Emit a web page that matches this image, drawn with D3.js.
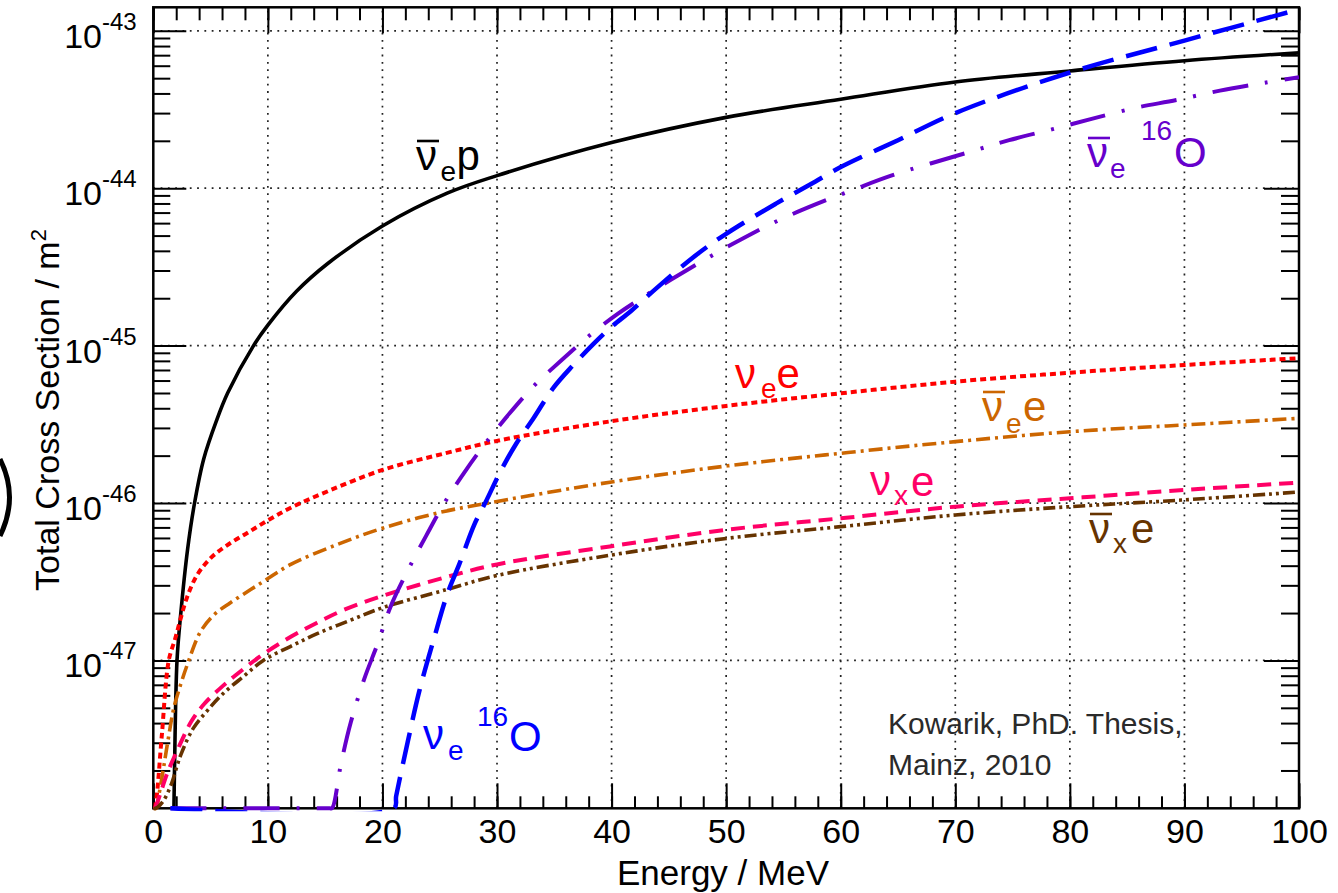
<!DOCTYPE html>
<html>
<head>
<meta charset="utf-8">
<script src="https://cdn.jsdelivr.net/npm/d3@7"></script>
<style>
  body { margin: 0; background: #fff; }
  text { font-family: "Liberation Sans", Arial, Helvetica, sans-serif; }
</style>
</head>
<body>
<div class="graph"></div>
<script>
// ---- data: energy (MeV) and log10(sigma / m^2) ----
// points below the axis minimum are written as -49 and end up on the bottom frame
const nuebarP_E   = [1.8, 1.85, 2.07, 2.4, 3.0, 3.6, 4.4, 5.5, 6.5, 8.75, 10, 12.5, 15.2, 20, 25.7, 30, 40, 50, 60, 70, 80, 90, 100];
const nuebarP_log = [-49, -47.7, -47.0, -46.7, -46.29, -46.0, -45.72, -45.48, -45.3, -45.0, -44.87, -44.655, -44.48, -44.24, -44.03, -43.92, -43.71, -43.55, -43.435, -43.325, -43.255, -43.19, -43.14];

const nueE_E   = [0.12, 0.3, 0.75, 1.35, 1.92, 2.4, 2.94, 3.8, 5, 6.4, 8.2, 10, 12, 15.4, 20, 25.7, 30, 40, 50, 60, 70, 80, 90, 100];
const nueE_log = [-48.0, -47.86, -47.47, -47.0, -46.86, -46.73, -46.6, -46.46, -46.35, -46.27, -46.19, -46.11, -46.03, -45.92, -45.79, -45.68, -45.605, -45.48, -45.383, -45.303, -45.229, -45.172, -45.123, -45.08];

const nuebarE_E   = [0, 0.25, 0.5, 0.9, 1.3, 1.8, 2.4, 3, 4.1, 5.3, 6.7, 8.5, 10, 12, 16, 20, 25, 30, 40, 50, 60, 70, 80, 90, 100];
const nuebarE_log = [-49, -48.0, -47.85, -47.68, -47.5, -47.3, -47.15, -47.02, -46.82, -46.71, -46.635, -46.55, -46.48, -46.39, -46.265, -46.16, -46.06, -45.99, -45.866, -45.765, -45.684, -45.61, -45.547, -45.504, -45.462];

const nuxE_E   = [0.15, 0.6, 1.2, 2.1, 3.3, 4.4, 6.1, 7.6, 9.6, 12, 14.3, 16.6, 20, 25.6, 30, 40, 50, 60, 70, 80, 90, 100];
const nuxE_log = [-48.0, -47.85, -47.72, -47.57, -47.39, -47.28, -47.16, -47.07, -46.96, -46.85, -46.76, -46.68, -46.59, -46.47, -46.39, -46.274, -46.17, -46.097, -46.023, -45.97, -45.917, -45.87];

const nuxbarE_E   = [0, 0.2, 0.8, 1.5, 2.4, 3.5, 4.7, 6.1, 7.9, 9.6, 12, 14.3, 17.2, 20, 25.6, 30, 40, 50, 60, 70, 80, 90, 100];
const nuxbarE_log = [-49, -48.0, -47.9, -47.8, -47.6, -47.43, -47.32, -47.21, -47.1, -47.0, -46.91, -46.83, -46.745, -46.665, -46.55, -46.46, -46.33, -46.225, -46.15, -46.076, -46.023, -45.98, -45.93];

const nueO_E   = [1.5, 21.0, 21.2, 22.2, 23.2, 24.5, 25.7, 26.7, 28, 29.1, 30.3, 31.7, 33.2, 34.9, 36.7, 38.4, 40, 41.7, 44, 47.5, 50, 54.3, 57.8, 60, 65, 70, 80, 90, 100];
const nueO_log = [-49, -49, -47.86, -47.52, -47.2, -46.86, -46.57, -46.39, -46.14, -45.98, -45.8, -45.62, -45.46, -45.27, -45.12, -44.99, -44.88, -44.78, -44.63, -44.418, -44.29, -44.1, -43.957, -43.866, -43.695, -43.523, -43.265, -43.062, -42.864];

const nuebarO_E   = [1.5, 15.4, 15.6, 16.4, 17.25, 18.4, 19.6, 20.7, 22.2, 23.8, 25.4, 27.2, 29, 31.1, 33.3, 35.6, 38, 40.5, 43, 45.2, 48.7, 51.7, 54.7, 57.9, 61.1, 64.4, 71.25, 74.7, 78.5, 81.9, 85.7, 89.3, 93.1, 97, 100];
const nuebarO_log = [-49, -49, -47.94, -47.65, -47.39, -47.12, -46.89, -46.66, -46.43, -46.21, -46.0, -45.8, -45.62, -45.43, -45.25, -45.095, -44.94, -44.8, -44.68, -44.58, -44.43, -44.31, -44.2, -44.1, -44.01, -43.92, -43.77, -43.695, -43.625, -43.56, -43.49, -43.44, -43.38, -43.33, -43.295];

const xTickLabels = ["0", "10", "20", "30", "40", "50", "60", "70", "80", "90", "100"];
const yDecades = [-47, -46, -45, -44, -43];
const creditLines = ["Kowarik, PhD. Thesis,", "Mainz, 2010"];

// ---- layout ----
const w = 1338;
const h = 893;
const plot = {left: 153.3, right: 1299, top: 7.3, bottom: 808.3};

const x = d3.scaleLinear().domain([0, 100]).range([plot.left, plot.right]);
const y = d3.scaleLog().domain([1.15e-48, 1.41e-43]).range([plot.bottom, plot.top]).clamp(true);

const series = [
  {E: nuebarP_E,   L: nuebarP_log,   color: "#000000", width: 3.6, dash: null},
  {E: nueE_E,      L: nueE_log,      color: "#ff0000", width: 4,   dash: "6,4"},
  {E: nuebarE_E,   L: nuebarE_log,   color: "#cc6600", width: 3.6, dash: "14,5,3,5"},
  {E: nuxE_E,      L: nuxE_log,      color: "#ff0066", width: 4,   dash: "14,8"},
  {E: nuxbarE_E,   L: nuxbarE_log,   color: "#663300", width: 3.6, dash: "12,4,3,4,3,4"},
  {E: nuebarO_E,   L: nuebarO_log,   color: "#6600cc", width: 4,   dash: "36,17,3,17"},
  {E: nueO_E,      L: nueO_log,      color: "#0000ff", width: 4.5, dash: "32,13"}
];

const svg = d3.select(".graph")
              .append("svg")
              .attr("width", w)
              .attr("height", h);

svg.append("defs").append("clipPath").attr("id", "clip")
   .append("rect")
   .attr("x", plot.left).attr("y", plot.top)
   .attr("width", plot.right - plot.left).attr("height", plot.bottom - plot.top + 3);

// dotted grid
const grid = svg.append("g")
                .attr("stroke", "#222")
                .attr("stroke-width", 1.7)
                .attr("stroke-dasharray", "1.8,5.5");
grid.selectAll(".gx")
    .data(d3.range(10, 100, 10))
    .enter().append("line")
    .attr("x1", d => x(d)).attr("x2", d => x(d))
    .attr("y1", plot.bottom).attr("y2", plot.top);
grid.selectAll(".gy")
    .data(yDecades)
    .enter().append("line")
    .attr("y1", d => y(Math.pow(10, d))).attr("y2", d => y(Math.pow(10, d)))
    .attr("x1", plot.left).attr("x2", plot.right);

// ticks on all four sides, pointing inwards
const minorX = d3.range(0, 101, 2);
const majorX = d3.range(0, 101, 10);
const minorY = [];
for (let k = -48; k <= -44; k++) {
  for (let m = 2; m <= 9; m++) {
    const v = m * Math.pow(10, k);
    if (v > y.domain()[0] && v < y.domain()[1]) minorY.push(v);
  }
}
const majorY = yDecades.map(d => Math.pow(10, d));

function cleanAxis(g) {
  g.select(".domain").remove();
  g.selectAll(".tick line").attr("stroke", "#000").attr("stroke-width", 2);
}

svg.append("g").attr("transform", `translate(0,${plot.bottom})`)
   .call(d3.axisBottom(x).tickValues(minorX).tickSize(-12).tickFormat(""))
   .call(cleanAxis);
svg.append("g").attr("transform", `translate(0,${plot.bottom})`)
   .call(d3.axisBottom(x).tickValues(majorX).tickSize(-25).tickPadding(11)
           .tickFormat((d, i) => xTickLabels[i]))
   .call(cleanAxis)
   .call(g => g.selectAll("text").attr("font-size", 34).attr("fill", "#000")
                .attr("font-family", "Liberation Sans, Arial, sans-serif"));
svg.append("g").attr("transform", `translate(0,${plot.top})`)
   .call(d3.axisTop(x).tickValues(minorX).tickSize(-13).tickFormat(""))
   .call(cleanAxis);
svg.append("g").attr("transform", `translate(0,${plot.top})`)
   .call(d3.axisTop(x).tickValues(majorX).tickSize(-26).tickFormat(""))
   .call(cleanAxis);
svg.append("g").attr("transform", `translate(${plot.left},0)`)
   .call(d3.axisLeft(y).tickValues(minorY).tickSize(-17).tickFormat(""))
   .call(cleanAxis);
svg.append("g").attr("transform", `translate(${plot.left},0)`)
   .call(d3.axisLeft(y).tickValues(majorY).tickSize(-33).tickFormat(""))
   .call(cleanAxis);
svg.append("g").attr("transform", `translate(${plot.right},0)`)
   .call(d3.axisRight(y).tickValues(minorY).tickSize(-18).tickFormat(""))
   .call(cleanAxis);
svg.append("g").attr("transform", `translate(${plot.right},0)`)
   .call(d3.axisRight(y).tickValues(majorY).tickSize(-35).tickFormat(""))
   .call(cleanAxis);

// y tick labels 10^k
const ylab = svg.append("g").attr("fill", "#000");
ylab.selectAll(".base").data(yDecades).enter().append("text")
    .attr("x", 102).attr("y", d => y(Math.pow(10, d)) + 17)
    .attr("text-anchor", "end").attr("font-size", 34)
    .text("10");
ylab.selectAll(".exp").data(yDecades).enter().append("text")
    .attr("x", 102).attr("y", d => y(Math.pow(10, d)) - 1)
    .attr("font-size", 24)
    .text(d => String(d));

// frame
svg.append("rect")
   .attr("x", plot.left).attr("y", plot.top)
   .attr("width", plot.right - plot.left).attr("height", plot.bottom - plot.top)
   .attr("fill", "none").attr("stroke", "#000").attr("stroke-width", 2.5);

// curves
const line = d3.line()
               .x(d => x(d[0]))
               .y(d => y(Math.pow(10, d[1])))
               .curve(d3.curveCatmullRom.alpha(0.5));

svg.append("g").attr("clip-path", "url(#clip)")
   .selectAll("path")
   .data(series)
   .enter().append("path")
   .attr("d", s => line(s.E.map((e, i) => [e, s.L[i]])))
   .attr("fill", "none")
   .attr("stroke", s => s.color)
   .attr("stroke-width", s => s.width)
   .attr("stroke-dasharray", s => s.dash)
   .attr("stroke-linecap", "butt");

// curve labels: nu, optional bar, then pieces with offsets from the nu
const labels = [
  {x: 416, y: 170, color: "#000000", bar: true,  parts: [["e", 24.5, 11, 28], ["p", 40.5, 0, 42]]},
  {x: 735, y: 388, color: "#ff0000", bar: false, parts: [["e", 26, 10, 28], ["e", 41.5, 0, 42]]},
  {x: 982, y: 421, color: "#cc6600", bar: true,  parts: [["e", 24, 12, 28], ["e", 41, 0, 42]]},
  {x: 870, y: 495, color: "#ff0066", bar: false, parts: [["x", 24, 10, 28], ["e", 41, 1, 42]]},
  {x: 1089, y: 543, color: "#663300", bar: true, parts: [["x", 24, 10, 28], ["e", 42, 0, 42]]},
  {x: 1087, y: 167, color: "#6600cc", bar: true, parts: [["e", 23, 11, 28], ["16", 54, -27, 28], ["O", 87, 0, 42]]},
  {x: 423, y: 749, color: "#0000ff", bar: false, parts: [["e", 25, 11, 28], ["16", 54, -23, 28], ["O", 86, 2, 42]]}
];

const lab = svg.append("g");
labels.forEach(l => {
  const g = lab.append("g").attr("fill", l.color);
  g.append("text").attr("x", l.x).attr("y", l.y).attr("font-size", 42).text("\u03bd");
  if (l.bar) {
    g.append("line")
     .attr("x1", l.x + 1).attr("x2", l.x + 23)
     .attr("y1", l.y - 29).attr("y2", l.y - 29)
     .attr("stroke", l.color).attr("stroke-width", 2.6);
  }
  l.parts.forEach(p => {
    g.append("text").attr("x", l.x + p[1]).attr("y", l.y + p[2])
     .attr("font-size", p[3]).text(p[0]);
  });
});

// axis titles
const ytitle = svg.append("text")
   .attr("transform", "translate(59,410) rotate(-90)")
   .attr("text-anchor", "middle")
   .attr("font-size", 34);
ytitle.append("tspan").text("Total Cross Section / m");
ytitle.append("tspan").attr("font-size", 22).attr("dy", -13).text("2");

svg.append("text")
   .attr("x", 723).attr("y", 885)
   .attr("text-anchor", "middle")
   .attr("font-size", 35)
   .text("Energy / MeV");

// credit
svg.append("g").attr("fill", "#2a2a2a")
   .selectAll("text").data(creditLines).enter().append("text")
   .attr("x", 888).attr("y", (d, i) => 734 + i * 40.6)
   .attr("font-size", 30)
   .text(d => d);

// cropped bracket at the left edge of the original figure
svg.append("path")
   .attr("d", "M0,459 Q19,497 0,536")
   .attr("fill", "none").attr("stroke", "#000").attr("stroke-width", 5);
</script>
</body>
</html>
